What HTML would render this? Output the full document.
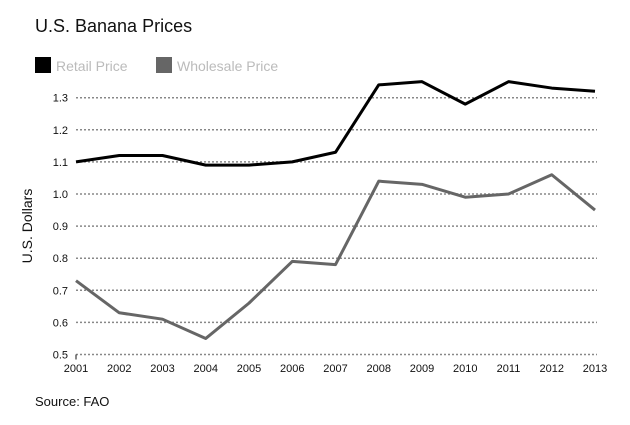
<!DOCTYPE html>
<html><head><meta charset="utf-8"><style>
html,body{margin:0;padding:0;background:#fff;}
body{width:630px;height:420px;overflow:hidden;font-family:"Liberation Sans",Arial,sans-serif;}
</style></head><body>
<svg id="chart" width="630" height="420" xmlns="http://www.w3.org/2000/svg" font-family="Liberation Sans, Arial, sans-serif">
<text x="35" y="32" font-size="18" fill="#111">U.S. Banana Prices</text>
<g>
<g><rect x="35" y="57" width="16" height="16" fill="#000"/><text x="56" y="71" font-size="14" fill="#bbb">Retail Price</text></g>
<g><rect x="156" y="57" width="16" height="16" fill="#666"/><text x="177" y="71" font-size="14" fill="#bbb">Wholesale Price</text></g>
</g>
<text transform="translate(32,226) rotate(-90)" text-anchor="middle" font-size="14" fill="#111">U.S. Dollars</text>
<text x="35" y="406" font-size="13" fill="#111">Source: FAO</text>
<g id="grid"></g><g id="axes"></g><g id="series"></g>
</svg>
<script>
const years = [2001,2002,2003,2004,2005,2006,2007,2008,2009,2010,2011,2012,2013];
const retail = [1.10,1.12,1.12,1.09,1.09,1.10,1.13,1.34,1.35,1.28,1.35,1.33,1.32];
const wholesale = [0.73,0.63,0.61,0.55,0.66,0.79,0.78,1.04,1.03,0.99,1.00,1.06,0.95];
const yTicks = [0.5,0.6,0.7,0.8,0.9,1.0,1.1,1.2,1.3];

const NS='http://www.w3.org/2000/svg';
const x0=76,x1=595,yb=354.5,yt=97.7;
function xs(i){return x0+(x1-x0)*(i/(years.length-1));}
function ys(v){return yb-(v-0.5)/(1.3-0.5)*(yb-yt);}
function mk(t,a,p){const e=document.createElementNS(NS,t);for(const k in a)e.setAttribute(k,a[k]);p.appendChild(e);return e;}
const grid=document.getElementById('grid'),axes=document.getElementById('axes'),ser=document.getElementById('series');
yTicks.forEach(v=>{
  const l=mk('line',{x1:x0,x2:x1+2,y1:ys(v),y2:ys(v),stroke:'#888','stroke-width':1.5,'stroke-dasharray':'2,2'},grid);
  
  
  const t=mk('text',{x:68,y:ys(v)+4,'text-anchor':'end','font-size':11,fill:'#111'},axes);
  t.textContent=v.toFixed(1);
  
  
});
const tk=mk('line',{x1:x0,x2:x0,y1:yb,y2:yb+5,stroke:'#111','stroke-width':1},axes);


years.forEach((y,i)=>{
  const t=mk('text',{x:xs(i),y:372,'text-anchor':'middle','font-size':11,fill:'#111'},axes);
  t.textContent=y;
  
  
});
function line(vals,color,name){
  const p=mk('polyline',{points:vals.map((v,i)=>xs(i)+','+ys(v)).join(' '),fill:'none',stroke:color,'stroke-width':3,'stroke-linejoin':'round'},ser);
  
  
}
line(wholesale,'#666','wholesale-price-line');
line(retail,'#000','retail-price-line');
</script>
</body></html>
